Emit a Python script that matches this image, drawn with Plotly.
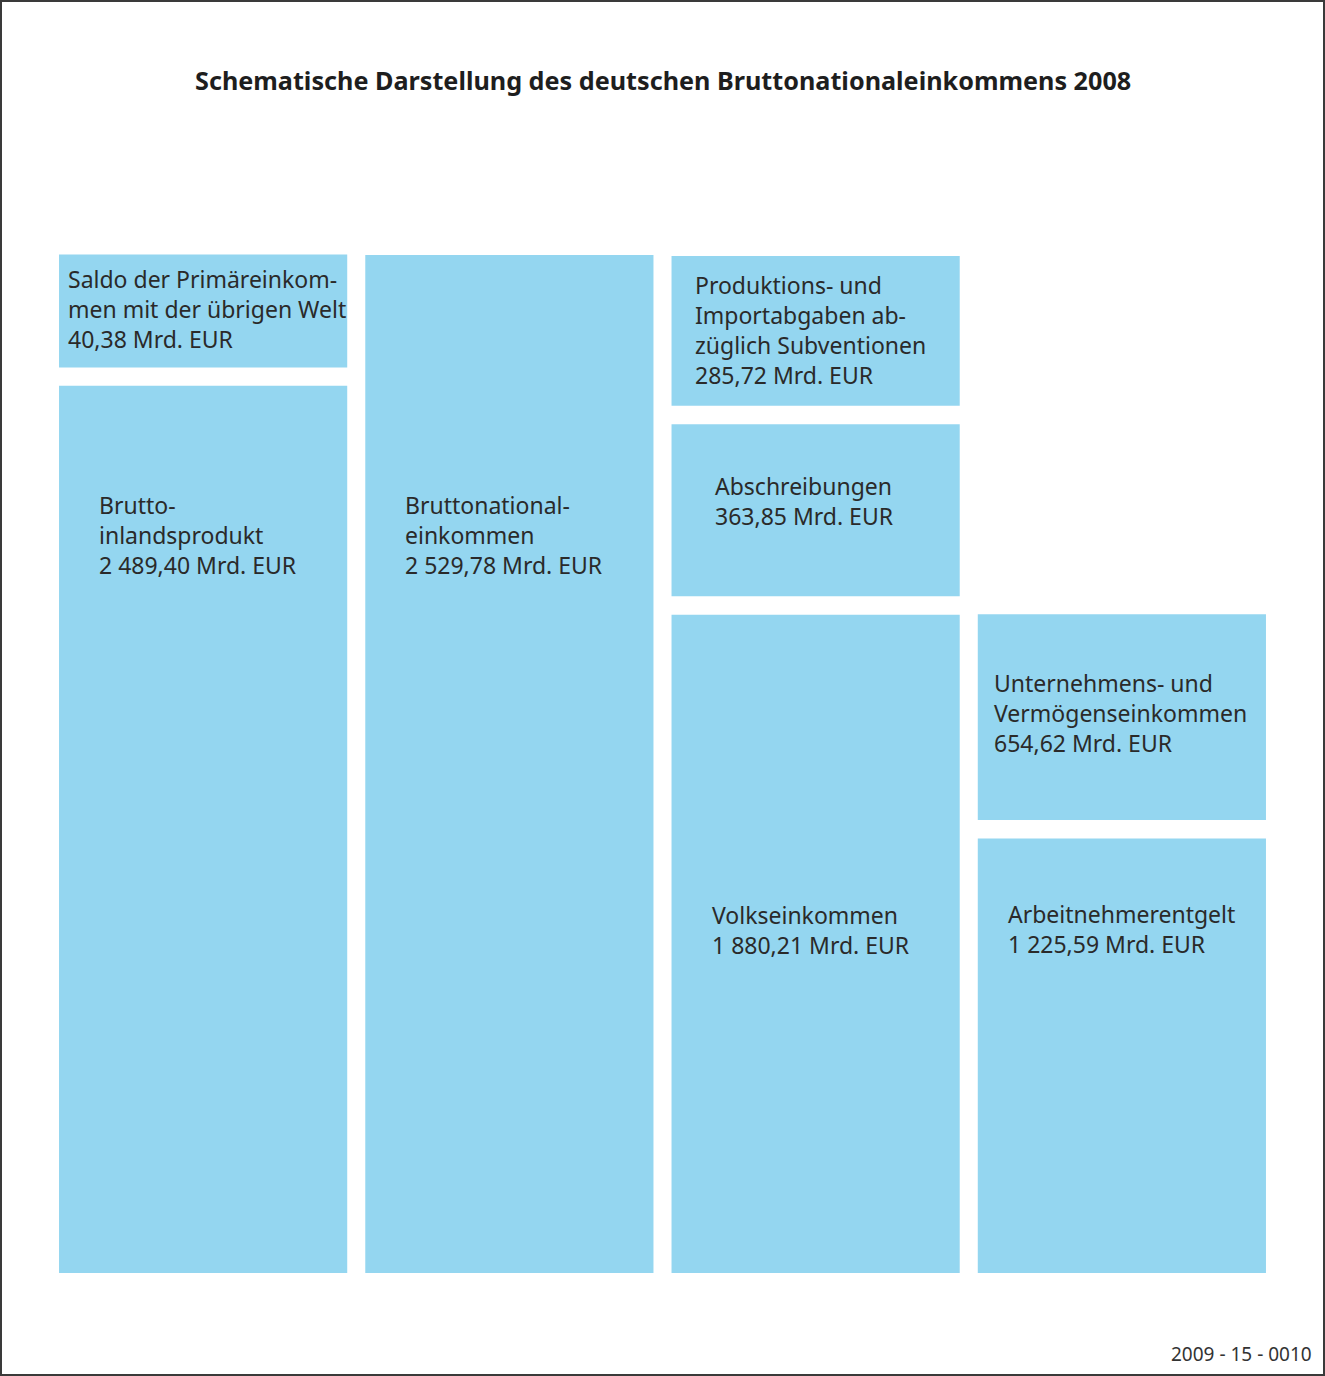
"""Schematische Darstellung des deutschen Bruttonationaleinkommens 2008 (Plotly)."""
import plotly.graph_objects as go

# --- data -----------------------------------------------------------------
blocks = ["Saldo", "BIP", "BNE", "Produktionsabgaben", "Abschreibungen",
          "Volkseinkommen", "Unternehmenseinkommen", "Arbeitnehmerentgelt"]
labels = [
    "Saldo der Primäreinkom-<br>men mit der übrigen Welt",
    "Brutto-<br>inlandsprodukt",
    "Bruttonational-<br>einkommen",
    "Produktions- und<br>Importabgaben ab-<br>züglich Subventionen",
    "Abschreibungen",
    "Volkseinkommen",
    "Unternehmens- und<br>Vermögenseinkommen",
    "Arbeitnehmerentgelt",
]
values = [40.38, 2489.40, 2529.78, 285.72, 363.85, 1880.21, 654.62, 1225.59]  # Mrd. EUR
unit = "Mrd. EUR"

title = "Schematische Darstellung des deutschen Bruttonationaleinkommens 2008"
footnote = "2009 - 15 - 0010"

# --- schematic layout (not proportional to values) -------------------------
# columns, bottom-to-top block order
stacks = [[1, 0], [2], [5, 4, 3], [7, 6]]
disp_height = [113, 888, 1019, 150, 172, 659, 206, 435]
gap = 18.5
bar_width = 0.941
# text offset inside each block (px): left padding, first-line centre below top
pad_x = [7, 38, 38, 21, 41, 38, 14, 28]
pad_y = [21, 116, 247, 26, 59, 297, 66, 73]

BLUE = "#94d6f0"
INK = "#2a2a2a"
FONT = "Noto Sans"
W, H = 1325, 1376
M = dict(l=50, r=50, t=254, b=103)
PW, PH = W - M["l"] - M["r"], H - M["t"] - M["b"]
Y_TOP = 1020


def fmt_de(v):
    return f"{v:,.2f}".replace(",", " ").replace(".", ",")


def px_x(px):
    return (px - M["l"]) / PW


def px_y(py):
    return (H - M["b"] - py) / PH


col = [0] * len(blocks)
base = [0.0] * len(blocks)
for c, stack in enumerate(stacks):
    level = 0.0
    for i in stack:
        col[i] = c
        base[i] = level
        level += disp_height[i] + gap

fig = go.Figure(go.Bar(
    x=col, y=disp_height, base=base, width=bar_width,
    marker=dict(color=BLUE, line=dict(width=0)),
    hoverinfo="skip", showlegend=False,
))

font_size = 23
line_h = 1.3 * font_size
for i in range(len(blocks)):
    fig.add_annotation(
        x=col[i] - bar_width / 2, y=min(base[i] + disp_height[i], Y_TOP),
        xref="x", yref="y", xanchor="left", yanchor="top",
        xshift=pad_x[i], yshift=-(pad_y[i] - line_h / 2),
        text=f"{labels[i]}<br>{fmt_de(values[i])} {unit}",
        showarrow=False, align="left",
        font=dict(family=FONT, size=font_size, color=INK),
    )

fig.add_annotation(x=0.5, y=px_y(80), xref="paper", yref="paper",
                   xanchor="center", yanchor="middle", showarrow=False,
                   text=f"<b>{title}</b>",
                   font=dict(family=FONT, size=25.2, color="#1e1e1e"))
fig.add_annotation(x=px_x(1314), y=px_y(1354), xref="paper", yref="paper",
                   xanchor="right", yanchor="middle", showarrow=False,
                   text=footnote, font=dict(family=FONT, size=19, color="#333333"))

# frame round the whole picture
fig.add_shape(type="rect", xref="paper", yref="paper",
              x0=px_x(1), x1=px_x(W - 1), y0=px_y(H - 1), y1=px_y(1),
              line=dict(color="#3a3a3a", width=2), fillcolor="rgba(0,0,0,0)")

fig.update_xaxes(range=[-0.5, 3.5], visible=False, fixedrange=True)
fig.update_yaxes(range=[0, Y_TOP], visible=False, fixedrange=True)
fig.update_layout(width=W, height=H, margin=M, barmode="overlay",
                  paper_bgcolor="white", plot_bgcolor="white")

fig.write_html("out.html", config={"displayModeBar": False},
               post_script="document.body.style.margin='0';")
